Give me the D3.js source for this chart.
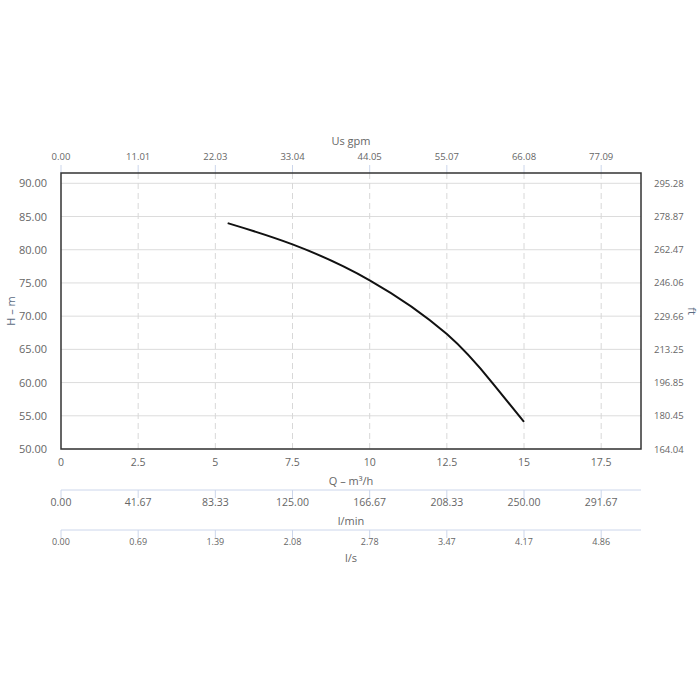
<!DOCTYPE html>
<html><head><meta charset="utf-8">
<script src="https://cdn.jsdelivr.net/npm/d3@7"></script>
<style>body{margin:0;background:#fff}svg{display:block;font-family:"Open Sans",sans-serif}</style>
</head><body><svg id="c" width="700" height="700"></svg>
<script>
// Data
const flowQ = [5.4, 7.5, 10, 12.5, 14, 15];          // m³/h
const headH = [84.0, 80.8, 75.4, 67.3, 59.8, 54.1];  // m
const xTicks = [0, 2.5, 5, 7.5, 10, 12.5, 15, 17.5];
const xTickLabels = ["0", "2.5", "5", "7.5", "10", "12.5", "15", "17.5"];
const gpmLabels = ["0.00", "11.01", "22.03", "33.04", "44.05", "55.07", "66.08", "77.09"];
const lminLabels = ["0.00", "41.67", "83.33", "125.00", "166.67", "208.33", "250.00", "291.67"];
const lsLabels = ["0.00", "0.69", "1.39", "2.08", "2.78", "3.47", "4.17", "4.86"];
const yTicks = [50, 55, 60, 65, 70, 75, 80, 85, 90];
const yTickLabels = ["50.00", "55.00", "60.00", "65.00", "70.00", "75.00", "80.00", "85.00", "90.00"];
const ftLabels = ["164.04", "180.45", "196.85", "213.25", "229.66", "246.06", "262.47", "278.87", "295.28"];

const svg = d3.select("#c");
const L = 61, R = 641, T = 173, B = 449;
const x = d3.scaleLinear().domain([0, 18.79]).range([L, R]);
const y = d3.scaleLinear().domain([50, 91.55]).range([B, T]);
const txt = "#666";

// horizontal grid
svg.append("g").selectAll("line").data(yTicks).join("line")
  .attr("x1", L).attr("x2", R).attr("y1", d => y(d)).attr("y2", d => y(d))
  .attr("stroke", "#dcdcdc").attr("stroke-width", 1);
// vertical dashed grid
svg.append("g").selectAll("line").data(xTicks.slice(1)).join("line")
  .attr("x1", d => x(d)).attr("x2", d => x(d)).attr("y1", T).attr("y2", B)
  .attr("stroke", "#d8d8d8").attr("stroke-dasharray", "6,4");

// top tick marks
svg.append("g").selectAll("line").data(xTicks).join("line")
  .attr("x1", d => x(d)).attr("x2", d => x(d)).attr("y1", T - 8).attr("y2", T)
  .attr("stroke", "#ccd6eb");

// frame
svg.append("rect").attr("x", L).attr("y", T).attr("width", R - L).attr("height", B - T)
  .attr("fill", "none").attr("stroke", "#333").attr("stroke-width", 1.5);

// curve
const line = d3.line().x(d => x(d[0])).y(d => y(d[1])).curve(d3.curveNatural);
svg.append("path").datum(flowQ.map((q, i) => [q, headH[i]]))
  .attr("d", line).attr("fill", "none").attr("stroke", "#111").attr("stroke-width", 2);

// left labels
svg.append("g").selectAll("text").data(yTicks).join("text")
  .attr("x", 47).attr("y", d => y(d) + 4).attr("text-anchor", "end")
  .attr("font-size", 11).attr("fill", txt).text((d, i) => yTickLabels[i]);
// right labels
svg.append("g").selectAll("text").data(yTicks).join("text")
  .attr("x", 654).attr("y", d => y(d) + 3.5).attr("text-anchor", "start")
  .attr("font-size", 9.5).attr("fill", txt).text((d, i) => ftLabels[i]);
// top labels
svg.append("g").selectAll("text").data(xTicks).join("text")
  .attr("x", d => x(d)).attr("y", 160).attr("text-anchor", "middle")
  .attr("font-size", 9.5).attr("fill", txt).text((d, i) => gpmLabels[i]);
// bottom labels
svg.append("g").selectAll("text").data(xTicks).join("text")
  .attr("x", d => x(d)).attr("y", 466).attr("text-anchor", "middle")
  .attr("font-size", 10.5).attr("fill", txt).text((d, i) => xTickLabels[i]);

// l/min axis
svg.append("line").attr("x1", L).attr("x2", R).attr("y1", 490).attr("y2", 490).attr("stroke", "#ccd6eb");
svg.append("g").selectAll("line").data(xTicks).join("line")
  .attr("x1", d => x(d)).attr("x2", d => x(d)).attr("y1", 490).attr("y2", 498).attr("stroke", "#ccd6eb");
svg.append("g").selectAll("text").data(xTicks).join("text")
  .attr("x", d => x(d)).attr("y", 506).attr("text-anchor", "middle")
  .attr("font-size", 10.5).attr("fill", txt).text((d, i) => lminLabels[i]);

// l/s axis
svg.append("line").attr("x1", L).attr("x2", R).attr("y1", 530).attr("y2", 530).attr("stroke", "#ccd6eb");
svg.append("g").selectAll("line").data(xTicks).join("line")
  .attr("x1", d => x(d)).attr("x2", d => x(d)).attr("y1", 530).attr("y2", 538).attr("stroke", "#ccd6eb");
svg.append("g").selectAll("text").data(xTicks).join("text")
  .attr("x", d => x(d)).attr("y", 545).attr("text-anchor", "middle")
  .attr("font-size", 9).attr("fill", txt).text((d, i) => lsLabels[i]);

// titles
const title = (t, xx, yy, rot, fill) => {
  const e = svg.append("text").attr("font-size", 11).attr("fill", fill || txt).attr("text-anchor", "middle").text(t);
  if (rot) e.attr("transform", `translate(${xx},${yy}) rotate(${rot})`);
  else e.attr("x", xx).attr("y", yy);
};
title("Us gpm", 351, 145);
title("Q – m³/h", 351, 485);
title("l/min", 351, 525);
title("l/s", 351, 562);
title("H – m", 15, 311, -90, "#5b6b82");
title("ft", 688, 311, 90, "#5b6b82");
</script></body></html>
